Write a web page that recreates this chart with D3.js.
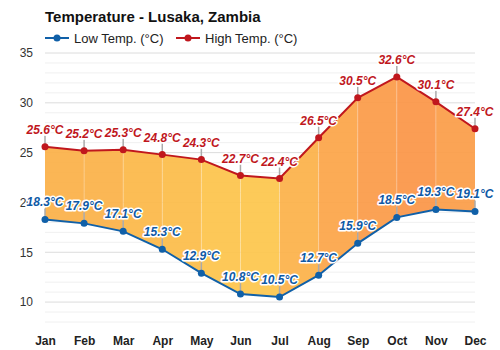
<!DOCTYPE html>
<html><head><meta charset="utf-8">
<script src="https://cdn.jsdelivr.net/npm/d3@7"></script>
<style>body{margin:0;background:#fff;}svg{display:block;font-family:"Liberation Sans",Arial,sans-serif;}</style>
</head><body><div id="chart"></div>
<script>
const months = ["Jan","Feb","Mar","Apr","May","Jun","Jul","Aug","Sep","Oct","Nov","Dec"];
const lowTemps = [18.3,17.9,17.1,15.3,12.9,10.8,10.5,12.7,15.9,18.5,19.3,19.1];
const highTemps = [25.6,25.2,25.3,24.8,24.3,22.7,22.4,26.5,30.5,32.6,30.1,27.4];
const yTicks = [10,15,20,25,30,35];
const segColors = ["#fbb046","#fbb147","#fcb747","#fcbc48","#fdc34a","#fdc64b","#fcb148","#fca447","#fb9a46","#fb9545","#fb9c46"];

const W=500,H=350;
const svg=d3.select("#chart").append("svg").attr("width",W).attr("height",H);
const x=d3.scalePoint().domain(months).range([45,475]);
const y=d3.scaleLinear().domain([8,35]).range([322,53]);

// grid
const g=svg.append("g");
g.selectAll(".minor").data(d3.range(8,36)).join("line")
 .attr("x1",45).attr("x2",475).attr("y1",d=>y(d)).attr("y2",d=>y(d))
 .attr("stroke",d=>d%5===0?"#dcdcdc":"#f0f0f0").attr("stroke-width",1);

// fill segments
for(let i=0;i<months.length-1;i++){
  const pts=[[x(months[i]),y(highTemps[i])],[x(months[i+1]),y(highTemps[i+1])],[x(months[i+1]),y(lowTemps[i+1])],[x(months[i]),y(lowTemps[i])]];
  svg.append("path").attr("d",d3.line()(pts)+"Z").attr("fill",segColors[i]).attr("fill-opacity",0.92);
}
// vertical lines inside fill
svg.selectAll(".vline").data(months.slice(1,-1)).join("line")
 .attr("x1",d=>x(d)).attr("x2",d=>x(d))
 .attr("y1",(d,i)=>y(highTemps[i+1])).attr("y2",(d,i)=>y(lowTemps[i+1]))
 .attr("stroke","#fff").attr("stroke-opacity",0.25).attr("stroke-width",1);

// axes
const yAxis=svg.append("g").attr("transform","translate(33,0)")
 .call(d3.axisLeft(y).tickValues(yTicks).tickSize(0).tickPadding(0));
yAxis.select(".domain").remove();
yAxis.selectAll("text").attr("font-size",12).attr("fill","#333").attr("font-family","Liberation Sans, Arial, sans-serif");
const xAxis=svg.append("g").attr("transform","translate(0,336)")
 .call(d3.axisBottom(x).tickSize(0).tickPadding(0));
xAxis.select(".domain").remove();
xAxis.selectAll("text").attr("font-size",12).attr("font-weight","bold").attr("fill","#222").attr("font-family","Liberation Sans, Arial, sans-serif");

// leader lines
function leaders(data,cls){
  svg.selectAll("."+cls).data(data).join("line")
   .attr("x1",(d,i)=>x(months[i])).attr("x2",(d,i)=>x(months[i]))
   .attr("y1",d=>y(d)).attr("y2",d=>y(d)-11)
   .attr("stroke","#aaa").attr("stroke-width",1.5);
}
leaders(highTemps,"lh");leaders(lowTemps,"ll");

// lines
const line=d3.line().x((d,i)=>x(months[i])).y(d=>y(d));
svg.append("path").attr("d",line(highTemps)).attr("fill","none").attr("stroke","#c0171d").attr("stroke-width",2);
svg.append("path").attr("d",line(lowTemps)).attr("fill","none").attr("stroke","#1060a8").attr("stroke-width",2);
svg.selectAll(".ph").data(highTemps).join("circle").attr("cx",(d,i)=>x(months[i])).attr("cy",d=>y(d)).attr("r",3.5).attr("fill","#c0171d");
svg.selectAll(".pl").data(lowTemps).join("circle").attr("cx",(d,i)=>x(months[i])).attr("cy",d=>y(d)).attr("r",3.5).attr("fill","#1060a8");

// labels
function labels(data,color){
  svg.append("g").selectAll("text").data(data).join("text")
   .attr("x",(d,i)=>x(months[i])).attr("y",d=>y(d)-13)
   .attr("text-anchor","middle").attr("font-size",12).attr("font-weight","bold").attr("font-style","italic")
   .attr("fill",color).attr("stroke","#fff").attr("stroke-width",3).attr("paint-order","stroke").attr("stroke-linejoin","round")
   .text(d=>d.toFixed(1)+"°C");
}
labels(highTemps,"#c0171d");labels(lowTemps,"#0f5aa6");

// title
svg.append("text").attr("x",45).attr("y",22).attr("font-size",15).attr("font-weight","bold").attr("fill","#111").text("Temperature - Lusaka, Zambia");
// legend
const leg=[{t:"Low Temp. (°C)",c:"#1060a8",x:45},{t:"High Temp. (°C)",c:"#c0171d",x:176}];
const lg=svg.append("g").selectAll("g").data(leg).join("g").attr("transform",d=>`translate(${d.x},38)`);
lg.append("line").attr("x1",0).attr("x2",24).attr("stroke",d=>d.c).attr("stroke-width",2);
lg.append("circle").attr("cx",12).attr("r",3.5).attr("fill",d=>d.c);
lg.append("text").attr("x",29).attr("y",4.5).attr("font-size",13).attr("fill","#222").text(d=>d.t);
</script></body></html>
